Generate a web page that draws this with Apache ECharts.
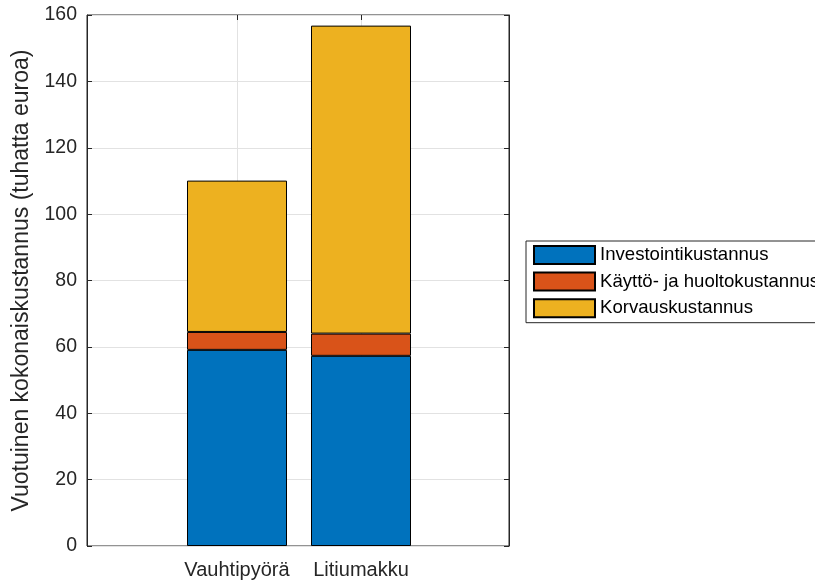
<!DOCTYPE html>
<html>
<head>
<meta charset="utf-8">
<script src="https://cdn.jsdelivr.net/npm/echarts@6/dist/echarts.min.js"></script>
<style>
  html, body { margin: 0; padding: 0; background: #ffffff; }
  #chart { width: 815px; height: 580px; }
</style>
</head>
<body>
<div id="chart"></div>
<script>
// Annual total cost per storage technology (thousand euros), stacked by cost type
const categories = ['Vauhtipyörä', 'Litiumakku'];
const seriesNames = ['Investointikustannus', 'Käyttö- ja huoltokustannus', 'Korvauskustannus'];
const investointi = [59.1, 57.3];
const kayttoHuolto = [5.4, 6.7];
const korvaus = [45.6, 92.8];
const yMin = 0;
const yMax = 160;
const yStep = 20;
const yTitle = 'Vuotuinen kokonaiskustannus (tuhatta euroa)';

const colors = ['#0072BD', '#D95319', '#EDB120'];
const axisColor = '#262626';
const gridColor = '#e2e2e2';
const font = '"Liberation Sans", Arial, Helvetica, sans-serif';

const chart = echarts.init(document.getElementById('chart'), null, { renderer: 'canvas' });

const seriesData = [investointi, kayttoHuolto, korvaus];

const option = {
  animation: false,
  textStyle: { fontFamily: font, color: axisColor },
  grid: [
    // full plot box with frame, y axis and horizontal grid
    { left: 87, right: 306, top: 15, bottom: 34, show: true, borderColor: axisColor, borderWidth: 1, backgroundColor: 'transparent' },
    // band holding the two bars, tick positions at the bar centres
    { left: 237, right: 454, top: 15, bottom: 34 }
  ],
  xAxis: [
    { gridIndex: 0, type: 'value', min: 0, max: 1, show: false },
    {
      gridIndex: 1, type: 'category', data: categories, boundaryGap: false,
      axisLine: { show: false },
      axisTick: { show: true, inside: true, length: 5, interval: 0, lineStyle: { color: axisColor } },
      axisLabel: { fontSize: 20, color: axisColor, margin: 14, fontFamily: font, interval: 0, hideOverlap: false },
      splitLine: { show: true, interval: 0, lineStyle: { color: gridColor, width: 1 } }
    },
    {
      gridIndex: 1, type: 'category', data: categories, boundaryGap: false, position: 'top',
      axisLine: { show: false },
      axisTick: { show: true, inside: true, length: 5, interval: 0, lineStyle: { color: axisColor } },
      axisLabel: { show: false },
      splitLine: { show: false }
    }
  ],
  yAxis: [
    {
      gridIndex: 0, type: 'value', min: yMin, max: yMax, interval: yStep, position: 'left',
      axisLine: { show: true, lineStyle: { color: axisColor } },
      axisTick: { show: true, inside: true, length: 5, lineStyle: { color: axisColor } },
      axisLabel: { fontSize: 19.5, color: axisColor, margin: 10, fontFamily: font },
      splitLine: { show: true, lineStyle: { color: gridColor, width: 1 } },
      name: yTitle, nameLocation: 'middle', nameGap: 50,
      nameTextStyle: { fontSize: 23, color: axisColor, fontFamily: font }
    },
    {
      gridIndex: 0, type: 'value', min: yMin, max: yMax, interval: yStep, position: 'right',
      axisLine: { show: true, lineStyle: { color: axisColor } },
      axisTick: { show: true, inside: true, length: 5, lineStyle: { color: axisColor } },
      axisLabel: { show: false },
      splitLine: { show: false }
    },
    { gridIndex: 1, type: 'value', min: yMin, max: yMax, show: false }
  ],
  legend: {
    orient: 'vertical',
    left: 526, top: 241,
    padding: [4, 60, 4.5, 7],
    itemWidth: 61, itemHeight: 18, itemGap: 6.6,
    icon: 'rect',
    borderColor: axisColor, borderWidth: 1,
    backgroundColor: '#ffffff',
    textStyle: { fontSize: 18.6, lineHeight: 18, color: '#000000', fontFamily: font },
    data: seriesNames
  },
  series: seriesNames.map((name, i) => ({
    name: name,
    type: 'bar',
    stack: 'total',
    xAxisIndex: 1,
    yAxisIndex: 2,
    barWidth: 100,
    clip: false,
    data: seriesData[i],
    itemStyle: { color: colors[i], borderColor: '#000000', borderWidth: 1 },
    emphasis: { disabled: true }
  }))
};

chart.setOption(option);
</script>
</body>
</html>
